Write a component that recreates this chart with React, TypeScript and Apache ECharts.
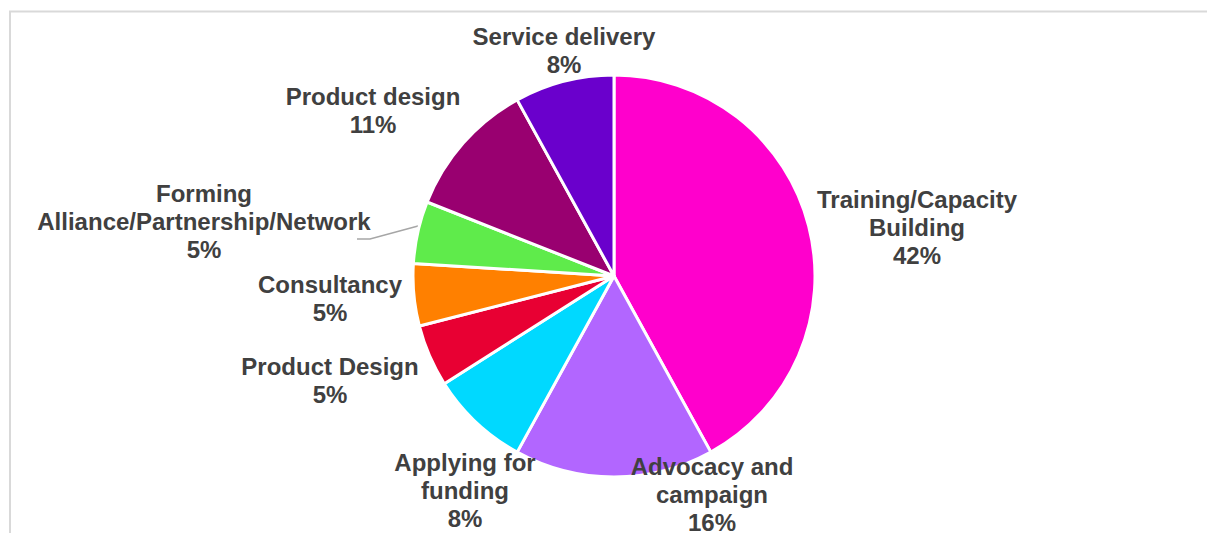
import React, { useEffect, useRef } from "react";
import * as echarts from "echarts";

const categories = [
  "Training/Capacity\nBuilding",
  "Advocacy and\ncampaign",
  "Applying for\nfunding",
  "Product Design",
  "Consultancy",
  "Forming\nAlliance/Partnership/Network",
  "Product design",
  "Service delivery",
];
const values = [42, 16, 8, 5, 5, 5, 11, 8];
const colors = ["#FF00CC", "#B266FF", "#00D9FF", "#E80033", "#FF8000", "#5FEB4B", "#990070", "#6A00CC"];

// label anchor positions (centre of each label block), in pixels
const labelPos: [number, number][] = [
  [917, 227],
  [712, 494],
  [465, 490],
  [330, 380],
  [330, 298],
  [204, 221],
  [373, 110],
  [564, 50],
];
const leaderLine: [number, number][] = [[418, 226], [370, 239], [357, 239]];

export default function App() {
  const ref = useRef<HTMLDivElement>(null);
  useEffect(() => {
    const chart = echarts.init(ref.current!, null, { renderer: "svg" });
    chart.setOption({
      animation: false,
      backgroundColor: "#ffffff",
      graphic: [
        {
          type: "rect",
          shape: { x: 10, y: 11.5, width: 1400, height: 800 },
          style: { fill: "none", stroke: "#d9d9d9", lineWidth: 2 },
          silent: true,
        },
      ],
      series: [
        {
          type: "pie",
          center: [614, 276],
          radius: [0, 201],
          startAngle: 90,
          clockwise: true,
          percentPrecision: 0,
          itemStyle: { borderColor: "#ffffff", borderWidth: 3 },
          label: {
            show: true,
            position: "outside",
            formatter: "{b}\n{d}%",
            color: "#404040",
            fontFamily: "Liberation Sans, Arial, sans-serif",
            fontWeight: "bold",
            fontSize: 24,
            lineHeight: 28,
            align: "center",
          },
          labelLine: { show: false, lineStyle: { color: "#a6a6a6", width: 1.5 } },
          labelLayout: (params: any) => {
            const p = labelPos[params.dataIndex];
            const res: any = { x: p[0], y: p[1], align: "center", verticalAlign: "middle" };
            if (params.dataIndex === 5) res.labelLinePoints = leaderLine;
            return res;
          },
          data: categories.map((name, i) => ({
            name,
            value: values[i],
            itemStyle: { color: colors[i] },
            labelLine: i === 5 ? { show: true, smooth: false } : { show: false },
          })),
        },
      ],
    });
    return () => chart.dispose();
  }, []);
  return (
    <div
      ref={ref}
      style={{ position: "fixed", left: 0, top: 0, width: 1207, height: 533 }}
    />
  );
}
